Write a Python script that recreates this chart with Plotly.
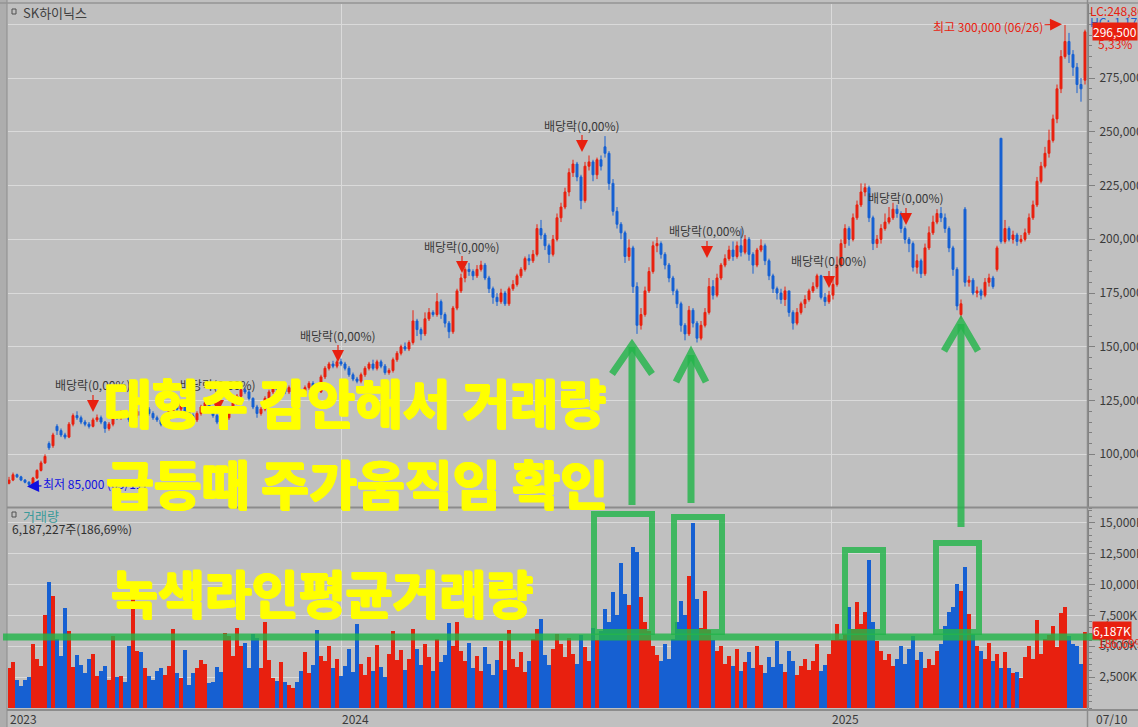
import plotly.graph_objects as go

W, H = 1138, 727
FONT = "Noto Sans CJK KR"

# ---------------- data (prices in thousand won, volume in million shares) ----------------
close = [
    88, 90.5, 89.5, 88, 87, 86, 89, 92.5, 96, 99,
    103, 109, 111, 109, 108, 114, 118, 117, 115, 114,
    113, 116, 117, 115, 112, 114, 118, 117, 119, 118,
    116, 118, 120, 118, 121, 119, 117, 116, 114, 116,
    120, 123, 121, 124, 120, 118, 116, 119, 122, 124,
    121, 118, 115, 113, 117, 121, 124, 127, 130, 129,
    126, 122, 119, 121, 126, 129, 131, 130, 132, 129,
    131, 133, 129, 128, 131, 133, 130, 129, 136, 140,
    142, 141, 143, 142, 140, 137, 135, 134, 137, 140,
    142, 140, 143, 141, 138, 139, 144, 147, 150, 149,
    152, 162, 158, 156, 163, 166, 165, 171, 165, 161,
    157, 168, 176, 182, 186, 185, 183, 186, 188, 182,
    177, 173, 171, 175, 170, 177, 179, 183, 186, 191,
    190, 193, 205, 202, 197, 193, 200, 210, 215, 222,
    231, 235, 229, 218, 234, 236, 230, 237, 234, 240,
    226, 213, 207, 203, 192, 196, 178, 160, 165, 176,
    185, 197, 198, 193, 188, 182, 176, 170, 160, 156,
    167, 161, 154, 160, 166, 178, 174, 182, 188, 191,
    195, 192, 197, 194, 200, 193, 188, 195, 197, 190,
    183, 177, 175, 172, 176, 166, 161, 166, 170, 172,
    176, 178, 183, 173, 171, 174, 179, 188, 198, 205,
    200, 210, 216, 222, 224, 210, 198, 200, 205, 208,
    210, 214, 212, 205, 200, 198, 187, 190, 184, 196,
    203, 208, 212, 210, 205, 196, 186, 169, 170, 180,
    181, 175, 176, 174, 180, 182, 178, 196, 199, 205,
    200, 202, 199, 200, 203, 210, 216, 227, 234, 240,
    246, 256, 270, 285, 292, 286, 280, 272, 270, 296.5,
]
open_ = [
    86.5, 88, 90.5, 89.5, 88, 87, 86, 89, 92.5, 96,
    105, 104, 113, 111, 109, 108, 114, 118, 117, 115,
    114, 113, 116, 117, 115, 112, 114, 118, 117, 119,
    118, 116, 118, 120, 118, 121, 119, 117, 116, 114,
    116, 120, 123, 121, 124, 120, 118, 116, 119, 122,
    124, 121, 118, 115, 113, 117, 121, 124, 127, 130,
    129, 126, 122, 119, 121, 126, 129, 131, 130, 132,
    129, 131, 133, 129, 128, 131, 133, 130, 129, 136,
    140, 142, 141, 143, 142, 140, 137, 135, 134, 137,
    140, 142, 140, 143, 141, 138, 139, 144, 147, 150,
    149, 152, 162, 158, 156, 163, 166, 165, 171, 165,
    161, 157, 168, 176, 182, 186, 185, 183, 186, 188,
    182, 177, 173, 171, 175, 170, 177, 179, 183, 186,
    191, 190, 193, 205, 202, 197, 193, 200, 210, 215,
    222, 231, 235, 229, 218, 234, 236, 230, 237, 243,
    240, 226, 213, 207, 203, 192, 196, 178, 160, 165,
    176, 185, 197, 198, 193, 188, 182, 176, 170, 160,
    156, 167, 161, 154, 160, 166, 178, 174, 182, 188,
    191, 195, 192, 197, 194, 200, 193, 188, 195, 197,
    190, 183, 177, 175, 172, 176, 166, 161, 166, 170,
    172, 176, 178, 183, 173, 171, 174, 179, 188, 198,
    205, 200, 210, 216, 222, 224, 210, 198, 200, 205,
    208, 210, 214, 212, 205, 200, 198, 187, 190, 184,
    196, 203, 208, 212, 210, 205, 196, 186, 165, 214,
    180, 181, 175, 176, 174, 180, 182, 186, 247, 199,
    205, 200, 202, 199, 200, 203, 210, 216, 227, 234,
    240, 246, 256, 270, 285, 292, 286, 280, 272, 274,
]
high = [
    89.5, 91.5, 91, 90, 88.5, 87.5, 89.5, 93, 97, 100,
    106, 110, 114, 112, 110, 115, 119, 120, 118, 116,
    115, 117, 118.5, 118, 115.5, 115, 119, 119, 120.5, 120,
    118.5, 119, 121, 121, 122, 122, 120, 118, 117, 117,
    121, 124, 124, 125, 124.5, 121, 119, 120, 123, 125,
    125, 122, 119, 116, 118, 122, 125, 128, 131.5, 131,
    130, 126.5, 123, 122, 127, 130, 132.5, 132, 133, 133,
    132, 134.5, 134, 130, 132, 134, 134, 131, 137, 141,
    143, 143.5, 144, 144.5, 143, 141, 138, 136, 138, 141,
    143, 144, 144, 144, 142, 140, 145, 148, 151, 152,
    153, 167, 163, 159, 166, 168, 167, 175, 172, 166,
    162, 169, 177, 184, 187, 189, 186, 188, 190, 189,
    183, 178, 175, 177, 176, 178, 181, 184, 187, 192,
    193, 195, 207, 209, 203, 198, 202, 212, 217, 224,
    233, 237, 236, 230, 236, 239, 237, 238, 239, 248,
    241, 228, 215, 208, 204, 200, 197, 180, 168, 178,
    187, 199, 201, 199, 194, 189, 183, 177, 171, 161,
    169, 168, 162, 162, 168, 182, 181, 184, 189, 193,
    197, 199, 199, 205, 202, 201, 194, 196, 200, 198,
    191, 184, 178, 177, 178, 176, 167, 168, 171, 174,
    177, 180, 184, 183.5, 175, 176, 182, 192, 200, 207,
    206, 212, 218, 226, 226, 225, 211, 202, 207, 212,
    215, 217, 216, 213, 206, 201, 199, 193, 191, 198,
    206, 211, 214, 215, 212, 206, 197, 187, 172, 215,
    183, 182, 178, 177, 182, 184, 183, 197, 247, 209,
    206, 204, 203, 202, 205, 212, 218, 229, 236, 243,
    251, 258, 272, 288, 299.7, 296, 288, 282, 275, 297.5,
]
low = [
    86, 87.5, 89, 87.5, 86.5, 85, 85.5, 88.5, 92, 95.5,
    102, 103, 109, 108, 107, 107.5, 113, 116, 114, 113,
    112, 112.5, 115, 114, 110, 111, 113, 116, 116, 117,
    115, 115, 117, 117, 117.5, 118, 116, 115, 113, 113,
    115, 119, 120, 120, 119, 117, 115, 115, 118, 121,
    120, 117, 114, 112, 112.5, 116, 120, 123, 126, 128,
    125, 121, 117, 118, 120, 125, 128, 129, 129, 128,
    128, 130, 128, 127, 127, 130, 129, 128, 128.5, 135,
    139, 140, 140, 141, 139, 136, 134, 133, 133, 136,
    139, 139, 139, 140, 137, 137, 138, 143, 146, 148,
    148, 151, 155, 153, 155, 162, 164, 164, 163, 159,
    154, 156, 167, 175, 180, 183, 181, 182, 185, 181,
    175, 170, 169, 170, 169, 169, 176, 178, 182, 185,
    188, 189, 192, 200, 195, 189, 192, 199, 208, 214,
    220, 229, 227, 214, 217, 232, 227, 228, 232, 238,
    223, 211, 205, 200, 189, 190, 175, 156, 158, 164,
    175, 184, 194, 191, 186, 180, 174, 168, 157, 153,
    155, 159, 152, 153, 159, 165, 172, 173, 181, 187,
    190, 190, 191, 192, 193, 190, 184, 187, 194, 188,
    181, 175, 172, 170, 169, 164, 158, 160, 165, 168,
    171, 175, 177, 172, 169, 170, 172, 178, 187, 196,
    197, 199, 209, 215, 220, 208, 195, 196, 198, 204,
    207, 209, 210, 203, 198, 194, 185, 184, 182, 183,
    195, 202, 207, 208, 203, 194, 183, 167, 163, 178,
    178, 174, 173, 172, 173, 178, 177, 185, 198, 198,
    199, 198, 197, 198, 199, 202, 209, 215, 226, 233,
    238, 245, 254, 268, 284, 282, 276, 268, 264, 272,
]
volume = [
    3.2, 3.7, 2.3, 1.8, 2.3, 2.5, 5.2, 4.0, 3.4, 7.5,
    10.2, 9.1, 5.6, 4.2, 8.1, 6.2, 3.3, 4.3, 3.5, 2.8,
    4.0, 4.4, 2.6, 3.0, 3.4, 2.3, 5.8, 2.5, 2.6, 2.1,
    5.0, 9.2, 4.6, 4.5, 3.2, 2.6, 2.3, 3.0, 3.2, 2.7,
    3.4, 6.4, 2.8, 2.4, 4.7, 1.9, 2.8, 3.2, 3.9, 3.6,
    2.0, 2.1, 3.3, 2.9, 6.1, 5.8, 4.2, 6.5, 5.0, 5.3,
    3.2, 6.0, 5.7, 3.2, 7.0, 3.9, 2.4, 2.2, 3.7, 2.1,
    1.9, 1.6, 2.1, 3.0, 4.5, 2.8, 3.5, 6.3, 4.2, 3.8,
    5.0, 3.2, 4.0, 2.6, 3.4, 4.8, 2.9, 6.8, 3.6, 2.7,
    4.1, 3.0, 5.1, 3.3, 2.5, 4.4, 6.2, 3.9, 4.7, 3.1,
    4.0, 6.4, 4.8, 3.5, 5.2, 4.1, 3.0, 5.6, 3.7, 4.3,
    6.9, 5.0, 7.0, 4.6, 3.8, 5.3, 3.2, 4.2, 3.0, 4.9,
    3.6, 2.7, 3.9, 5.4, 3.1, 6.3, 4.0, 3.3, 4.5, 2.9,
    3.8, 5.6, 6.4, 7.2, 4.3, 3.5, 4.8, 6.0, 5.2, 4.1,
    5.7, 4.4, 3.6, 5.9, 4.9, 3.8, 6.5, 5.5, 6.2, 8.0,
    7.0, 9.4, 7.5, 11.7, 9.2, 8.3, 13.0, 12.6, 9.0, 7.0,
    6.2, 5.0, 4.3, 3.8, 5.2, 4.0, 5.6, 7.0, 8.7, 7.5,
    10.7, 15.0, 8.8, 6.5, 9.5, 6.3, 5.5, 4.6, 5.0, 3.6,
    4.2, 3.4, 4.8, 3.0, 3.7, 4.5, 3.2, 5.0, 3.5, 2.8,
    4.1, 3.3, 5.4, 3.6, 2.9, 4.6, 3.8, 2.7, 3.4, 4.0,
    3.1, 3.8, 5.2, 3.0, 3.5, 4.4, 5.5, 6.8, 5.6, 6.0,
    8.2, 6.4, 8.6, 6.8, 7.8, 12.0, 7.0, 5.4, 4.6, 3.9,
    4.4, 3.4, 4.0, 5.0, 3.6, 4.8, 5.8, 3.9, 4.5, 3.2,
    4.0, 3.5, 4.6, 5.2, 6.6, 7.8, 8.2, 10.0, 9.5, 11.4,
    7.6, 6.0, 5.0, 4.6, 4.0, 5.3, 3.8, 4.4, 3.2, 4.5,
    3.2, 2.8, 2.9, 2.4, 4.1, 5.0, 4.0, 7.1, 4.4, 5.6,
    5.9, 6.6, 4.9, 7.7, 8.2, 5.8, 5.2, 5.0, 3.6, 6.187,
]
assert len(close) == len(open_) == len(high) == len(low) == len(volume) == 270

price_ticks = [100, 125, 150, 175, 200, 225, 250, 275, 300]
price_ticktext = ["100,000", "125,000", "150,000", "175,000", "200,000",
                  "225,000", "250,000", "275,000", ""]
vol_ticks = [2.5, 5, 7.5, 10, 12.5, 15]
vol_ticktext = ["2,500K", "5,000K", "7,500K", "10,000K", "12,500K", "15,000K"]
year_pos = [0, 83, 205.5]
year_labels = ["2023", "2024", "2025"]

div_idx = [21, 52.25, 82.25, 113.25, 143.25, 174.5, 205, 224.25]
div_price = [119.7, 119.7, 142.9, 184.3, 240.6, 191.3, 177.4, 206.7]
div_label = "배당락(0,00%)"

hi_idx, hi_price, hi_label = 263.25, 300, "최고 300,000 (06/26)"
lo_idx, lo_price, lo_label = 4.5, 85, "최저 85,000 (05/11)"

RED = "#e8200f"
BLUE = "#1660d2"
GREEN = "rgba(35,180,75,0.82)"
YELLOW = "#ffff00"
GRID = "#dadada"
AXIS = "#808080"
TXT = "#3a3a3a"
BG = "#c0c0c0"


def px(x):
    return x / W


def py(y):
    return 1 - y / H


xs = list(range(len(close)))
fig = go.Figure()
fig.add_trace(go.Candlestick(
    x=xs, open=open_, high=high, low=low, close=close,
    increasing=dict(line=dict(color=RED, width=1), fillcolor=RED),
    decreasing=dict(line=dict(color=BLUE, width=1), fillcolor=BLUE),
    whiskerwidth=0, xaxis="x", yaxis="y", showlegend=False, hoverinfo="skip"))
vol_colors = [RED if c >= o else BLUE for o, c in zip(open_, close)]
fig.add_trace(go.Bar(
    x=xs, y=volume, width=1.0, marker=dict(color=vol_colors, line=dict(width=0)),
    xaxis="x2", yaxis="y2", showlegend=False, hoverinfo="skip"))

xcommon = dict(range=[-0.25, 269.75], domain=[px(8), px(1088)], tickmode="array",
               tickvals=year_pos[1:], showticklabels=False, ticks="", showgrid=True,
               gridcolor=GRID, gridwidth=1, zeroline=False, showline=False,
               fixedrange=True, automargin=False)
ycommon = dict(side="right", ticks="outside", ticklen=6, tickwidth=1, tickcolor=AXIS,
               showgrid=True, gridcolor=GRID, gridwidth=1, zeroline=False,
               showline=True, linecolor=AXIS, linewidth=1, automargin=False,
               tickfont=dict(family=FONT, size=12, color=TXT), ticklabelstandoff=2)

fig.update_layout(
    width=W, height=H, template="none", margin=dict(l=0, r=0, t=0, b=0),
    paper_bgcolor=BG, plot_bgcolor=BG, showlegend=False, bargap=0,
    xaxis=dict(**xcommon, anchor="y", rangeslider=dict(visible=False)),
    xaxis2=dict(**xcommon, anchor="y2", matches="x"),
    yaxis=dict(**ycommon, anchor="x", domain=[py(508), py(4)], range=[75.02, 309.44],
               tickmode="array", tickvals=price_ticks, ticktext=price_ticktext,
               minor=dict(tickmode="linear", tick0=0, dtick=5, ticks="outside",
                          ticklen=3, tickcolor=AXIS, showgrid=False)),
    yaxis2=dict(**ycommon, anchor="x2", domain=[py(708), py(510)], range=[0, 16.03],
                tickmode="array", tickvals=vol_ticks, ticktext=vol_ticktext,
                minor=dict(tickmode="linear", tick0=0, dtick=0.5, ticks="outside",
                           ticklen=3, tickcolor=AXIS, showgrid=False)),
)

shapes = []


def pline(x0, y0, x1, y1, color, width):
    shapes.append(dict(type="line", xref="paper", yref="paper", x0=px(x0), y0=py(y0),
                       x1=px(x1), y1=py(y1), line=dict(color=color, width=width), layer="above"))


def prect(x0, y0, x1, y1, color, width, fill="rgba(0,0,0,0)"):
    shapes.append(dict(type="rect", xref="paper", yref="paper", x0=px(x0), y0=py(y0),
                       x1=px(x1), y1=py(y1), line=dict(color=color, width=width),
                       fillcolor=fill, layer="above"))


def ppath(pts, color, width):
    d = "M " + " L ".join(f"{px(a):.5f},{py(b):.5f}" for a, b in pts)
    shapes.append(dict(type="path", xref="paper", yref="paper", path=d,
                       line=dict(color=color, width=width), layer="above"))


# window frame
prect(0, 0, 7, 727, "rgba(0,0,0,0)", 0, fill="#adadad")
pline(7, 0, 7, 727, "#8c8c8c", 1)
pline(0, 3, 1138, 3, "#949494", 1.5)
pline(1087.5, 0, 1087.5, 727, "#8c8c8c", 1.5)
pline(7, 507.5, 1138, 507.5, "#8c8c8c", 2)
pline(7, 710, 1138, 710, "#8c8c8c", 2)
# small panel icons
prect(12, 9, 16, 14, "#505050", 1)
prect(12, 512, 16, 517, "#505050", 1)

# green overlays
pline(3, 637, 1117, 637, GREEN, 7)
prect(594, 514, 652, 632, GREEN, 6)
prect(674, 517, 722, 632, GREEN, 6)
prect(845, 550, 883, 632, GREEN, 6)
prect(936, 543, 979, 632, GREEN, 6)
for sx, sb, st, hw in [(632, 505, 347, 20), (691, 503, 355, 15), (961, 527, 324, 17)]:
    pline(sx, sb, sx, st, GREEN, 7)
    ppath([(sx - hw, st + 27), (sx, st - 2), (sx + hw, st + 27)], GREEN, 7)

ann = []


def ptxt(x, y, text, size=12, color=TXT, xanchor="left", weight="normal", shadow="none"):
    ann.append(dict(xref="paper", yref="paper", x=px(x), y=py(y), text=text,
                    showarrow=False, xanchor=xanchor, yanchor="middle",
                    font=dict(family=FONT, size=size, color=color, weight=weight,
                              shadow=shadow)))


ptxt(21, 12.5, "SK하이닉스", 13, "#404040")
ptxt(21, 515.5, "거래량", 13, "#3a9a9a")
ptxt(10, 528.5, "6,187,227주(186,69%)", 12, "#303030")

# date labels
for pos, lab in zip(year_pos, year_labels):
    ann.append(dict(xref="x", yref="paper", x=pos - 0.2, y=py(718), text=lab,
                    showarrow=False, xanchor="left", yanchor="middle",
                    font=dict(family=FONT, size=12, color=TXT)))
ptxt(1094, 718, "07/10", 12, TXT)

# right-side info texts
ptxt(1088, 10.5, "LC:248,800", 12, RED)
ptxt(1088, 21, "HC:-1,17%", 12, BLUE)
ann.append(dict(xref="paper", yref="y", x=px(1092), y=close[-1], text="296,500",
                showarrow=False, xanchor="left", yanchor="middle", bgcolor=RED,
                borderpad=0, font=dict(family=FONT, size=12, color="white")))
ptxt(1096, 43, "5,33%", 12, RED)
ptxt(1096, 642, "186,69%", 12, RED)
ann.append(dict(xref="paper", yref="y2", x=px(1092), y=volume[-1] + 0.12, text="6,187K",
                showarrow=False, xanchor="left", yanchor="middle", bgcolor=RED,
                borderpad=0, font=dict(family=FONT, size=12, color="white")))

# dividend markers
for i, p in zip(div_idx, div_price):
    ann.append(dict(xref="x", yref="y", x=i, y=p, text=div_label, showarrow=True,
                    ax=0, ay=-27, arrowcolor=RED, arrowwidth=1.2, arrowhead=2,
                    arrowsize=2, font=dict(family=FONT, size=12, color="#383838")))

# high / low markers
ann.append(dict(xref="x", yref="y", x=hi_idx, y=hi_price, text=hi_label, showarrow=True,
                ax=-74, ay=2, arrowcolor=RED, arrowwidth=1.2, arrowhead=2, arrowsize=2,
                font=dict(family=FONT, size=12, color=RED)))
ann.append(dict(xref="x", yref="y", x=lo_idx, y=lo_price, text=lo_label, showarrow=True,
                ax=68, ay=-3, arrowcolor="#1010e0", arrowwidth=1.2, arrowhead=2,
                arrowsize=2, font=dict(family=FONT, size=12, color="#1010e0")))

# yellow commentary
thick = ("1px 0 0 #ffff00, -1px 0 0 #ffff00, 0 1px 0 #ffff00, 0 -1px 0 #ffff00, "
         "1px 1px 0 #ffff00, -1px -1px 0 #ffff00")
ptxt(102, 401, "대형주 감안해서 거래량", 52, YELLOW, weight="bold", shadow=thick)
ptxt(104, 483, "급등때 주가움직임 확인", 52, YELLOW, weight="bold", shadow=thick)
ptxt(109, 592, "녹색라인평균거래량", 51, YELLOW, weight="bold", shadow=thick)

fig.update_layout(shapes=shapes, annotations=ann)

fig.write_html("out.html", config={"displayModeBar": False, "staticPlot": True},
               post_script="document.body.style.margin='0';document.body.style.overflow='hidden';")
